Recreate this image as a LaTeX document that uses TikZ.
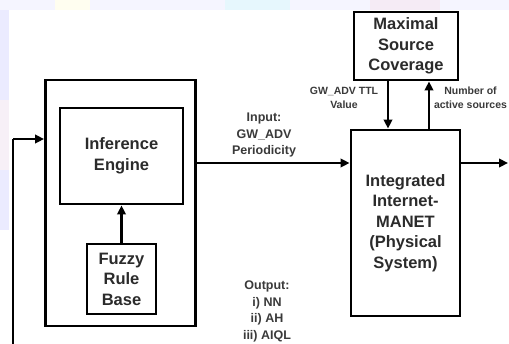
\documentclass[tikz,border=0pt]{standalone}
\usepackage{fontspec}
\setmainfont{Liberation Sans}
\usetikzlibrary{arrows.meta,calc}
\definecolor{txt}{HTML}{2B2B2B}
\definecolor{lbl}{HTML}{3A3A3A}
\begin{document}
\begin{tikzpicture}[x=1pt,y=-1pt,
  box/.style={draw=black,line width=2.9pt,fill=white,align=center,inner sep=0pt,
    font=\bfseries\fontsize{16.5}{20.5}\selectfont,text=txt},
  lab/.style={align=center,inner sep=0pt,font=\bfseries\fontsize{12.5}{16.5}\selectfont,text=lbl},
  slab/.style={align=center,inner sep=0pt,font=\bfseries\fontsize{10.5}{14}\selectfont,text=lbl},
  conn/.style={line width=2.9pt,draw=black},
  arr/.style={conn,-{Triangle[length=9pt,width=8.5pt]}}]
\useasboundingbox (0,0) rectangle (509,343);
\clip (0,0) rectangle (509,343);
% pale background wash
\fill[white] (0,0) rectangle (509,343);
\fill[blue!4] (0,0) rectangle (509,10);
\fill[cyan!10] (225,0) rectangle (290,10);
\fill[violet!8] (370,0) rectangle (440,10);
\fill[yellow!6] (55,0) rectangle (90,10);
\fill[blue!8] (0,10) rectangle (9,230);
\fill[violet!6] (0,100) rectangle (9,170);
% boxes
\node[box,minimum width=150pt,minimum height=246pt] (outer) at (120.5,203) {};
\node[box,minimum width=123pt,minimum height=96pt] (ie) at (121.5,156) {Inference\\Engine};
\node[box,minimum width=69pt,minimum height=70pt] (frb) at (121.5,279) {Fuzzy\\Rule\\Base};
\node[box,minimum width=104pt,minimum height=68pt] (msc) at (406,46) {Maximal\\Source\\Coverage};
\node[box,minimum width=109pt,minimum height=186pt] (sys) at (405.5,223) {Integrated\\Internet-\\MANET\\(Physical\\System)};
% labels
\node[lab] (inlab) at (264,135) {Input:\\GW\_ADV\\Periodicity};
\node[slab,anchor=north] (ttl) at (344,87) {GW\_ADV TTL\\Value};
\node[slab,anchor=north] (nas) at (470.5,87) {Number of\\active sources};
\node[lab,anchor=north] (outlab) at (267,281) {Output:\\i) NN\\ii) AH\\iii) AIQL};
% helper coordinates
\coordinate (fb) at (13,345);
\coordinate (fbturn) at (13,139);
\coordinate (inY) at (0,163);
\coordinate (outEnd) at (508,163);
\coordinate (xl) at (388,0);
\coordinate (xr) at (429,0);
% connectors
\draw[arr] (frb.north) -- (ie.south);
\draw[conn] (fb) -- (fbturn);
\draw[arr] (fbturn) -- (fbturn -| outer.west);
\draw[arr] (outer.east |- inY) -- (sys.west |- inY);
\draw[arr] (sys.east |- outEnd) -- (outEnd);
\draw[arr] (msc.south -| xl) -- (sys.north -| xl);
\draw[arr] (sys.north -| xr) -- (msc.south -| xr);
\end{tikzpicture}
\end{document}
